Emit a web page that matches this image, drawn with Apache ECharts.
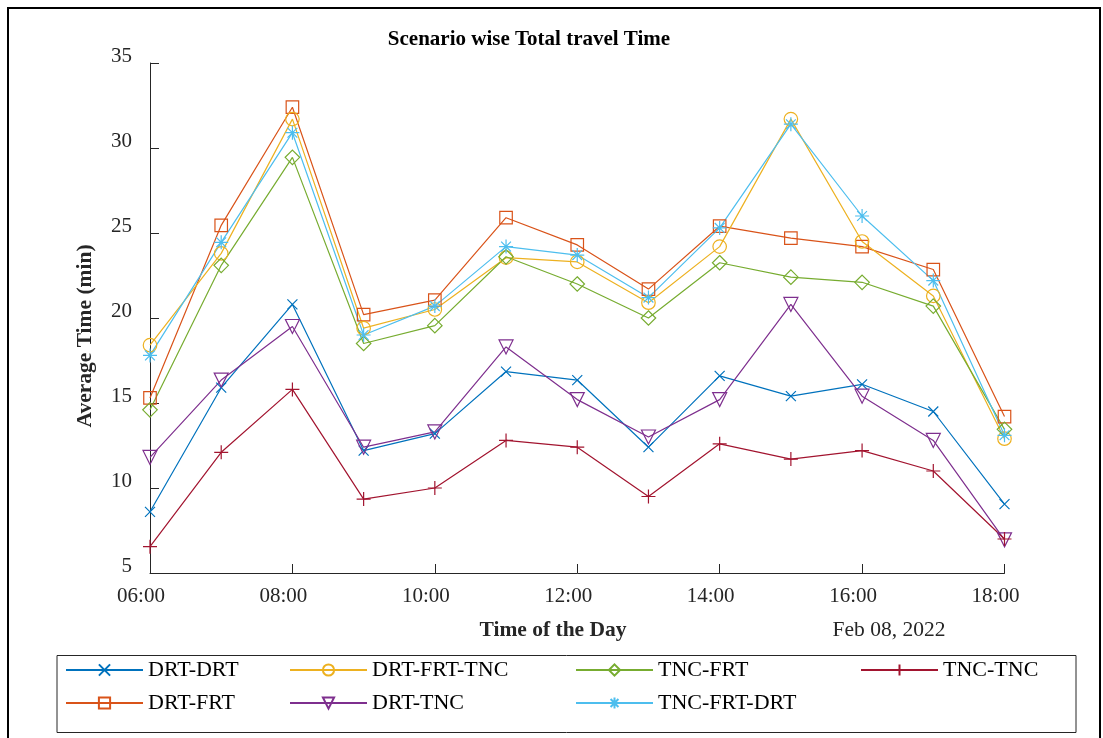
<!DOCTYPE html>
<html>
<head>
<meta charset="utf-8">
<script src="https://cdn.jsdelivr.net/npm/echarts@6/dist/echarts.min.js"></script>
<style>html,body{margin:0;padding:0;background:#fff}#c{width:1103px;height:738px}</style>
</head>
<body>
<div id="c"></div>
<script>
const hours = [6,7,8,9,10,11,12,13,14,15,16,17,18];
const yTicks = [5,10,15,20,25,30,35];
const drtDrt    = [8.6, 15.9, 20.8, 12.2, 13.2, 16.85, 16.35, 12.4, 16.6, 15.4, 16.1, 14.5, 9.05];
const drtFrt    = [15.3, 25.45, 32.4, 20.2, 21.05, 25.9, 24.3, 21.7, 25.4, 24.7, 24.2, 22.85, 14.2];
const drtFrtTnc = [18.4, 23.8, 31.7, 19.4, 20.5, 23.55, 23.3, 20.9, 24.2, 31.7, 24.5, 21.3, 12.9];
const drtTnc    = [11.8, 16.35, 19.5, 12.4, 13.3, 18.3, 15.2, 13.0, 15.2, 20.8, 15.4, 12.8, 6.95];
const tncFrt    = [14.6, 23.1, 29.45, 18.5, 19.55, 23.6, 22.0, 20.0, 23.25, 22.4, 22.1, 20.7, 13.45];
const tncFrtDrt = [17.8, 24.45, 30.9, 19.0, 20.7, 24.2, 23.7, 21.2, 25.3, 31.4, 26.0, 22.2, 13.1];
const tncTnc    = [6.55, 12.1, 15.8, 9.35, 10.0, 12.8, 12.4, 9.5, 12.6, 11.7, 12.2, 11.0, 7.0];

const FONT = '"Liberation Serif", "Times New Roman", serif';
const AX = '#262626';

const defs = [
  {name:'DRT-DRT', data:drtDrt, color:'#0072BD', symbol:'path://M0,0L10,10M10,0L0,10', size:10, rot:0},
  {name:'DRT-FRT', data:drtFrt, color:'#D95319', symbol:'rect', size:12.5, rot:0},
  {name:'DRT-FRT-TNC', data:drtFrtTnc, color:'#EDB120', symbol:'circle', size:13.5, rot:0},
  {name:'DRT-TNC', data:drtTnc, color:'#7E2F8E', symbol:'triangle', size:14, rot:180},
  {name:'TNC-FRT', data:tncFrt, color:'#77AC30', symbol:'diamond', size:14.5, rot:0},
  {name:'TNC-FRT-DRT', data:tncFrtDrt, color:'#4DBEEE', symbol:'path://M5,0L5,10M0,5L10,5M1.5,1.5L8.5,8.5M8.5,1.5L1.5,8.5', size:14, rot:0},
  {name:'TNC-TNC', data:tncTnc, color:'#A2142F', symbol:'path://M5,0L5,10M0,5L10,5', size:14, rot:0}
];

const series = defs.map(d => ({
  name: d.name,
  type: 'line',
  data: hours.map((h,i) => [h, d.data[i]]),
  symbol: d.symbol,
  symbolSize: d.size,
  symbolRotate: d.rot,
  symbolKeepAspect: true,
  showAllSymbol: true,
  lineStyle: {color: d.color, width: 1.2},
  itemStyle: {color: 'rgba(0,0,0,0)', borderColor: d.color, borderWidth: 1.2},
  emphasis: {disabled: true},
  animation: false
}));

// legend slots: [name, left, row]
const legendSlots = [
  ['DRT-DRT', 65, 0], ['DRT-FRT', 65, 1],
  ['DRT-FRT-TNC', 289, 0], ['DRT-TNC', 289, 1],
  ['TNC-FRT', 575, 0], ['TNC-FRT-DRT', 575, 1],
  ['TNC-TNC', 860, 0]
];

function mkLegend(name, left, row) {
  return {
    data: [name],
    orient: 'horizontal',
    left: left,
    top: 651 + row * 33,
    height: 60,
    padding: 0,
    itemWidth: 77,
    itemHeight: 14,
    selectedMode: false,
    textStyle: {fontFamily: FONT, fontSize: 22, color: '#000', lineHeight: 22, padding: [0,0,16,0]}
  };
}

const chart = echarts.init(document.getElementById('c'), null, {renderer:'canvas'});
chart.setOption({
  backgroundColor: '#fff',
  animation: false,
  grid: {left: 150, top: 63, right: 98.5, bottom: 165, containLabel: false},
  xAxis: {
    type: 'value', min: 6, max: 18, interval: 2,
    axisLine: {lineStyle: {color: AX, width: 1}},
    axisTick: {inside: true, length: 9, lineStyle: {color: AX}},
    splitLine: {show: false},
    axisLabel: {
      fontFamily: FONT, fontSize: 21, color: AX, margin: 13,
      padding: [0, 18, 0, 0],
      formatter: v => (v < 10 ? '0' + v : '' + v) + ':00'
    }
  },
  yAxis: {
    type: 'value', min: 5, max: 35, interval: 5,
    axisLine: {show: true, lineStyle: {color: AX, width: 1}},
    axisTick: {show: true, inside: true, length: 9, lineStyle: {color: AX}},
    splitLine: {show: false},
    axisLabel: {
      fontFamily: FONT, fontSize: 21, color: AX, margin: 18,
      verticalAlign: 'bottom', lineHeight: 14,
      formatter: v => yTicks.indexOf(v) >= 0 ? String(v) : ''
    }
  },
  legend: legendSlots.map(s => mkLegend(s[0], s[1], s[2])),
  graphic: [
    {type:'rect', silent:true, shape:{x:8, y:8, width:1092, height:745}, style:{fill:'none', stroke:'#000', lineWidth:2}},
    {type:'rect', silent:true, shape:{x:57, y:655.5, width:1019, height:77}, style:{fill:'none', stroke:AX, lineWidth:1}},
    {type:'text', silent:true, x:529, y:40, style:{text:'Scenario wise Total travel Time', font:'bold 21px ' + FONT, fill:'#000', textAlign:'center', textVerticalAlign:'middle'}},
    {type:'text', silent:true, x:85, y:336, rotation: Math.PI/2, style:{text:'Average Time (min)', font:'bold 21.5px ' + FONT, fill:AX, textAlign:'center', textVerticalAlign:'middle'}},
    {type:'text', silent:true, x:553, y:630, style:{text:'Time of the Day', font:'bold 21.5px ' + FONT, fill:AX, textAlign:'center', textVerticalAlign:'middle'}},
    {type:'text', silent:true, x:889, y:630, style:{text:'Feb 08, 2022', font:'21.5px ' + FONT, fill:AX, textAlign:'center', textVerticalAlign:'middle'}}
  ],
  series: series
});
</script>
</body>
</html>
